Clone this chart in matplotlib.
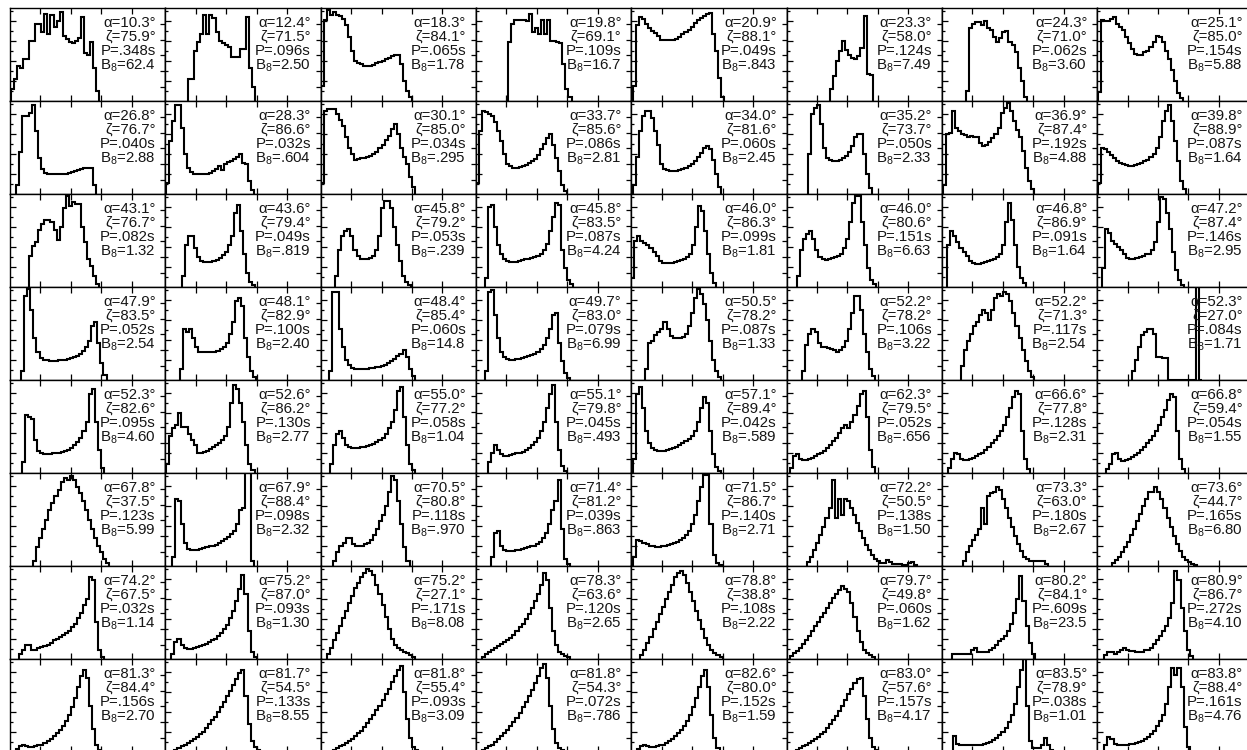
import matplotlib
matplotlib.use("Agg")
import matplotlib.pyplot as plt
import numpy as np

plt.rcParams['font.family'] = ['Liberation Sans', 'DejaVu Sans']
plt.rcParams['mathtext.fontset'] = 'custom'
plt.rcParams['mathtext.rm'] = 'Liberation Sans'
plt.rcParams['mathtext.default'] = 'regular'

# pulsar parameters, row by row (8 x 8 panels)
alpha = [10.3, 12.4, 18.3, 19.8, 20.9, 23.3, 24.3, 25.1,
         26.8, 28.3, 30.1, 33.7, 34.0, 35.2, 36.9, 39.8,
         43.1, 43.6, 45.8, 45.8, 46.0, 46.0, 46.8, 47.2,
         47.9, 48.1, 48.4, 49.7, 50.5, 52.2, 52.2, 52.3,
         52.3, 52.6, 55.0, 55.1, 57.1, 62.3, 66.6, 66.8,
         67.8, 67.9, 70.5, 71.4, 71.5, 72.2, 73.3, 73.6,
         74.2, 75.2, 75.2, 78.3, 78.8, 79.7, 80.2, 80.9,
         81.3, 81.7, 81.8, 81.8, 82.6, 83.0, 83.5, 83.8]
zeta = [75.9, 71.5, 84.1, 69.1, 88.1, 58.0, 71.0, 85.0,
        76.7, 86.6, 85.0, 85.6, 81.6, 73.7, 87.4, 88.9,
        76.7, 79.4, 79.2, 83.5, 86.3, 80.6, 86.9, 87.4,
        83.5, 82.9, 85.4, 83.0, 78.2, 78.2, 71.3, 27.0,
        82.6, 86.2, 77.2, 79.8, 89.4, 79.5, 77.8, 59.4,
        37.5, 88.4, 80.8, 81.2, 86.7, 50.5, 63.0, 44.7,
        67.5, 87.0, 27.1, 63.6, 38.8, 49.8, 84.1, 86.7,
        84.4, 54.5, 55.4, 54.3, 80.0, 57.6, 78.9, 88.4]
period = ['.348', '.096', '.065', '.109', '.049', '.124', '.062', '.154',
          '.040', '.032', '.034', '.086', '.060', '.050', '.192', '.087',
          '.082', '.049', '.053', '.087', '.099', '.151', '.091', '.146',
          '.052', '.100', '.060', '.079', '.087', '.106', '.117', '.084',
          '.095', '.130', '.058', '.045', '.042', '.052', '.128', '.054',
          '.123', '.098', '.118', '.039', '.140', '.138', '.180', '.165',
          '.032', '.093', '.171', '.120', '.108', '.060', '.609', '.272',
          '.156', '.133', '.093', '.072', '.152', '.157', '.038', '.161']
b8 = ['62.4', '2.50', '1.78', '16.7', '.843', '7.49', '3.60', '5.88',
      '2.88', '.604', '.295', '2.81', '2.45', '2.33', '4.88', '1.64',
      '1.32', '.819', '.239', '4.24', '1.81', '6.63', '1.64', '2.95',
      '2.54', '2.40', '14.8', '6.99', '1.33', '3.22', '2.54', '1.71',
      '4.60', '2.77', '1.04', '.493', '.589', '.656', '2.31', '1.55',
      '5.99', '2.32', '.970', '.863', '2.71', '1.50', '2.67', '6.80',
      '1.14', '1.30', '8.08', '2.65', '2.22', '1.62', '23.5', '4.10',
      '2.70', '8.55', '3.09', '.786', '1.59', '4.17', '1.01', '4.76']

# first bin of each profile (bin units)
starts = [0.3, 7.5, 0.0, 10.4, 0.5, 14.3, 7.9, 0.2,
          2.1, 0.2, 0.0, 0.0, 0.5, 7.1, 0.3, 0.2,
          6.3, 5.5, 4.8, 2.9, 0.0, 3.5, 1.8, 1.6,
          3.7, 4.8, 2.9, 2.9, 4.6, 5.2, 6.2, 11.4,
          3.8, 0.3, 3.0, 4.0, 0.5, 1.0, 2.0, 3.0,
          7.6, 2.2, 4.2, 4.8, 0.7, 6.8, 6.8, 4.8,
          3.0, 2.0, 2.0, 2.0, 3.0, 1.0, 3.5, 2.4,
          2.0, 3.0, 4.0, 2.0, 2.0, 3.0, 3.6, 2.4]

# normalised pulse-longitude histograms
profiles = [
    # row 1
    [0.13, 0.24, 0.38, 0.35, 0.45, 0.45, 0.65, 0.65, 0.83, 0.83, 0.74, 0.94, 0.72, 0.93, 0.80,
     0.86, 0.96, 0.70, 0.67, 0.63, 0.62, 0.64, 0.68, 0.90, 0.52, 0.50, 0.63, 0.36, 0.11],
    [0.24, 0.24, 0.54, 0.63, 0.72, 0.92, 0.72, 0.92, 0.89, 0.74, 0.65, 0.62, 0.60, 0.58, 0.47,
     0.47, 0.47, 0.56, 0.56, 0.90, 0.36, 0.15],
    [0.16, 0.87, 0.98, 0.93, 0.96, 0.93, 0.91, 0.88, 0.82, 0.69, 0.54, 0.43, 0.41, 0.40, 0.38,
     0.38, 0.38, 0.39, 0.41, 0.42, 0.43, 0.45, 0.46, 0.48, 0.49, 0.49, 0.40, 0.22, 0.11, 0.04],
    [0.63, 0.83, 0.87, 0.87, 0.87, 0.87, 0.86, 0.94, 0.74, 0.78, 0.72, 0.87, 0.72, 0.87, 0.65,
     0.64, 0.63, 0.62, 0.40, 0.13, 0.04],
    [0.16, 0.82, 0.90, 0.88, 0.83, 0.78, 0.75, 0.73, 0.70, 0.66, 0.66, 0.66, 0.66, 0.66, 0.67,
     0.69, 0.72, 0.74, 0.76, 0.80, 0.84, 0.87, 0.89, 0.91, 0.94, 0.95, 0.72, 0.54, 0.25, 0.04],
    [0.13, 0.27, 0.43, 0.54, 0.65, 0.55, 0.50, 0.46, 0.45, 0.48, 0.57, 0.91, 0.29, 0.28],
    [0.11, 0.78, 0.83, 0.85, 0.85, 0.82, 0.86, 0.78, 0.76, 0.69, 0.63, 0.68, 0.74, 0.75, 0.63,
     0.60, 0.53, 0.36, 0.22, 0.04],
    [0.10, 0.87, 0.86, 0.86, 0.88, 0.90, 0.83, 0.80, 0.76, 0.69, 0.62, 0.56, 0.51, 0.49, 0.49,
     0.53, 0.54, 0.58, 0.63, 0.70, 0.69, 0.63, 0.54, 0.45, 0.33, 0.22, 0.09, 0.03],
    # row 2
    [0.10, 0.45, 0.84, 0.84, 0.87, 0.96, 0.68, 0.39, 0.27, 0.23, 0.21, 0.21, 0.21, 0.21, 0.21,
     0.21, 0.22, 0.23, 0.24, 0.25, 0.26, 0.27, 0.28, 0.28, 0.28, 0.10],
    [0.12, 0.57, 0.78, 0.96, 0.96, 0.71, 0.43, 0.28, 0.24, 0.22, 0.21, 0.21, 0.21, 0.22, 0.23,
     0.25, 0.27, 0.30, 0.26, 0.32, 0.34, 0.36, 0.38, 0.40, 0.43, 0.33, 0.32, 0.14, 0.04],
    [0.12, 0.89, 0.91, 0.91, 0.91, 0.86, 0.80, 0.73, 0.61, 0.50, 0.43, 0.37, 0.38, 0.39, 0.39,
     0.40, 0.41, 0.43, 0.45, 0.49, 0.53, 0.58, 0.62, 0.70, 0.75, 0.64, 0.50, 0.40, 0.32, 0.18, 0.08],
    [0.12, 0.68, 0.89, 0.88, 0.86, 0.84, 0.77, 0.68, 0.57, 0.43, 0.32, 0.30, 0.28, 0.28, 0.29,
     0.30, 0.31, 0.33, 0.35, 0.38, 0.42, 0.48, 0.54, 0.60, 0.64, 0.53, 0.39, 0.25, 0.10, 0.03],
    [0.10, 0.40, 0.68, 0.84, 0.89, 0.89, 0.82, 0.68, 0.53, 0.32, 0.27, 0.26, 0.25, 0.25, 0.25,
     0.26, 0.27, 0.28, 0.30, 0.32, 0.36, 0.40, 0.44, 0.49, 0.52, 0.48, 0.37, 0.21, 0.08],
    [0.43, 0.86, 0.93, 0.96, 0.75, 0.50, 0.39, 0.37, 0.35, 0.35, 0.37, 0.39, 0.41, 0.45, 0.52,
     0.61, 0.64, 0.64, 0.43, 0.21, 0.06],
    [0.10, 0.64, 0.66, 0.89, 0.71, 0.68, 0.65, 0.63, 0.61, 0.62, 0.61, 0.61, 0.55, 0.52, 0.53,
     0.56, 0.60, 0.65, 0.71, 0.87, 0.93, 0.98, 0.89, 0.78, 0.69, 0.61, 0.46, 0.28, 0.14, 0.05],
    [0.12, 0.50, 0.48, 0.45, 0.42, 0.39, 0.36, 0.33, 0.32, 0.31, 0.30, 0.30, 0.31, 0.32, 0.33,
     0.35, 0.37, 0.40, 0.43, 0.50, 0.61, 0.78, 0.89, 0.96, 0.78, 0.57, 0.35, 0.14, 0.05],
    # row 3
    [0.33, 0.44, 0.48, 0.61, 0.68, 0.72, 0.72, 0.70, 0.61, 0.51, 0.64, 0.85, 0.98, 0.87, 0.91,
     0.89, 0.89, 0.64, 0.48, 0.30, 0.23, 0.12, 0.03],
    [0.12, 0.45, 0.55, 0.55, 0.42, 0.32, 0.28, 0.27, 0.27, 0.27, 0.28, 0.29, 0.31, 0.34, 0.38,
     0.45, 0.55, 0.80, 0.88, 0.60, 0.35, 0.15, 0.05, 0.02],
    [0.12, 0.40, 0.55, 0.60, 0.62, 0.55, 0.40, 0.33, 0.30, 0.30, 0.30, 0.31, 0.33, 0.40, 0.55,
     0.85, 0.92, 0.92, 0.85, 0.65, 0.45, 0.28, 0.12, 0.05, 0.02],
    [0.10, 0.86, 0.88, 0.65, 0.45, 0.35, 0.30, 0.28, 0.27, 0.27, 0.27, 0.28, 0.29, 0.30, 0.30,
     0.31, 0.32, 0.33, 0.36, 0.40, 0.46, 0.60, 0.75, 0.90, 0.88, 0.40, 0.20, 0.08, 0.03],
    [0.10, 0.50, 0.55, 0.50, 0.47, 0.45, 0.42, 0.38, 0.33, 0.28, 0.26, 0.26, 0.26, 0.26, 0.27,
     0.28, 0.29, 0.30, 0.32, 0.35, 0.45, 0.65, 0.87, 0.82, 0.60, 0.35, 0.15, 0.04],
    [0.12, 0.40, 0.52, 0.57, 0.60, 0.52, 0.40, 0.32, 0.30, 0.29, 0.30, 0.31, 0.32, 0.33, 0.36,
     0.42, 0.52, 0.70, 0.90, 0.98, 0.98, 0.70, 0.45, 0.20, 0.08, 0.03],
    [0.45, 0.60, 0.55, 0.48, 0.42, 0.38, 0.33, 0.28, 0.26, 0.25, 0.25, 0.26, 0.27, 0.28, 0.29,
     0.30, 0.32, 0.36, 0.45, 0.70, 0.90, 0.72, 0.45, 0.22, 0.10, 0.04],
    [0.20, 0.62, 0.58, 0.50, 0.46, 0.43, 0.40, 0.35, 0.31, 0.30, 0.30, 0.31, 0.32, 0.33, 0.35,
     0.36, 0.40, 0.48, 0.70, 0.97, 0.95, 0.80, 0.62, 0.38, 0.18, 0.07, 0.02],
    # row 4
    [0.10, 0.90, 0.98, 0.75, 0.45, 0.30, 0.24, 0.22, 0.21, 0.20, 0.20, 0.20, 0.21, 0.21, 0.22,
     0.23, 0.24, 0.25, 0.26, 0.28, 0.31, 0.35, 0.42, 0.58, 0.62, 0.40, 0.18, 0.05],
    [0.12, 0.55, 0.52, 0.55, 0.45, 0.35, 0.30, 0.30, 0.30, 0.30, 0.30, 0.30, 0.31, 0.33, 0.35,
     0.40, 0.50, 0.62, 0.85, 0.88, 0.80, 0.45, 0.25, 0.10, 0.03],
    [0.10, 0.95, 0.95, 0.55, 0.35, 0.22, 0.16, 0.13, 0.12, 0.12, 0.12, 0.12, 0.12, 0.13, 0.13,
     0.14, 0.14, 0.15, 0.16, 0.18, 0.20, 0.23, 0.26, 0.28, 0.32, 0.25, 0.12, 0.04],
    [0.10, 0.95, 0.97, 0.70, 0.45, 0.30, 0.25, 0.23, 0.22, 0.22, 0.23, 0.23, 0.24, 0.25, 0.26,
     0.27, 0.28, 0.30, 0.33, 0.38, 0.45, 0.55, 0.70, 0.72, 0.40, 0.20, 0.08, 0.02],
    [0.12, 0.40, 0.42, 0.48, 0.52, 0.55, 0.62, 0.55, 0.47, 0.45, 0.45, 0.45, 0.46, 0.50, 0.58,
     0.72, 0.88, 0.98, 0.92, 0.82, 0.65, 0.42, 0.22, 0.10, 0.03],
    [0.10, 0.38, 0.50, 0.55, 0.52, 0.40, 0.36, 0.35, 0.34, 0.33, 0.32, 0.30, 0.32, 0.35, 0.42,
     0.55, 0.72, 0.90, 0.90, 0.75, 0.50, 0.30, 0.12, 0.04],
    [0.15, 0.32, 0.42, 0.50, 0.58, 0.62, 0.70, 0.75, 0.72, 0.65, 0.75, 0.88, 0.92, 0.90, 0.95,
     0.93, 0.85, 0.72, 0.58, 0.45, 0.32, 0.20, 0.10, 0.03],
    [0.10, 0.22, 0.35, 0.48, 0.52, 0.55, 0.55, 0.50, 0.25, 0.25, 0.24, 0.24, 0.0, 0.0, 0.0,
     0.0, 0.0, 0.0, 0.0, 0.0, 0.0, 1.2, 0.0],
    # row 5
    [0.12, 0.62, 0.60, 0.58, 0.35, 0.24, 0.21, 0.20, 0.20, 0.20, 0.21, 0.21, 0.22, 0.23, 0.24,
     0.25, 0.27, 0.30, 0.33, 0.38, 0.45, 0.55, 0.85, 0.90, 0.55, 0.25, 0.05],
    [0.10, 0.40, 0.48, 0.52, 0.65, 0.50, 0.50, 0.42, 0.35, 0.30, 0.22, 0.22, 0.23, 0.24, 0.26,
     0.28, 0.30, 0.32, 0.35, 0.40, 0.50, 0.75, 0.95, 0.90, 0.75, 0.55, 0.30, 0.10, 0.03],
    [0.10, 0.30, 0.42, 0.45, 0.38, 0.30, 0.28, 0.27, 0.27, 0.27, 0.28, 0.28, 0.29, 0.30, 0.31,
     0.33, 0.35, 0.38, 0.42, 0.48, 0.55, 0.68, 0.88, 0.92, 0.60, 0.30, 0.10, 0.03],
    [0.12, 0.22, 0.30, 0.25, 0.20, 0.18, 0.18, 0.19, 0.20, 0.21, 0.22, 0.23, 0.25, 0.27, 0.30,
     0.33, 0.38, 0.45, 0.55, 0.70, 0.85, 0.95, 0.55, 0.25, 0.08, 0.02],
    [0.15, 0.85, 0.92, 0.70, 0.45, 0.32, 0.27, 0.25, 0.24, 0.24, 0.24, 0.25, 0.26, 0.27, 0.28,
     0.30, 0.32, 0.34, 0.37, 0.40, 0.45, 0.55, 0.70, 0.82, 0.75, 0.45, 0.20, 0.06, 0.02],
    [0.05, 0.18, 0.20, 0.15, 0.14, 0.14, 0.15, 0.16, 0.18, 0.20, 0.22, 0.24, 0.27, 0.30, 0.34,
     0.38, 0.43, 0.48, 0.52, 0.48, 0.55, 0.62, 0.72, 0.85, 0.88, 0.60, 0.25, 0.06],
    [0.05, 0.15, 0.22, 0.20, 0.15, 0.14, 0.14, 0.15, 0.16, 0.18, 0.20, 0.22, 0.25, 0.28, 0.32,
     0.36, 0.40, 0.45, 0.52, 0.60, 0.70, 0.82, 0.88, 0.85, 0.45, 0.15, 0.04],
    [0.04, 0.10, 0.20, 0.22, 0.15, 0.13, 0.14, 0.15, 0.17, 0.19, 0.22, 0.25, 0.28, 0.32, 0.36,
     0.40, 0.45, 0.52, 0.60, 0.68, 0.78, 0.85, 0.82, 0.45, 0.15, 0.04],
    # row 6
    [0.05, 0.20, 0.30, 0.40, 0.50, 0.60, 0.68, 0.75, 0.82, 0.90, 0.95, 0.93, 0.97, 0.92, 0.85,
     0.78, 0.70, 0.60, 0.50, 0.40, 0.30, 0.22, 0.15, 0.08, 0.03],
    [0.10, 0.72, 0.70, 0.45, 0.25, 0.18, 0.17, 0.17, 0.17, 0.18, 0.19, 0.20, 0.21, 0.22, 0.23,
     0.25, 0.27, 0.29, 0.31, 0.34, 0.38, 0.45, 0.60, 0.62, 1.05, 1.05, 0.05],
    [0.05, 0.15, 0.22, 0.25, 0.30, 0.30, 0.24, 0.22, 0.21, 0.22, 0.24, 0.25, 0.28, 0.33, 0.40,
     0.48, 0.55, 0.65, 0.80, 0.97, 0.92, 0.70, 0.45, 0.20, 0.05],
    [0.10, 0.35, 0.38, 0.22, 0.17, 0.16, 0.16, 0.16, 0.17, 0.17, 0.18, 0.19, 0.20, 0.21, 0.22,
     0.24, 0.26, 0.30, 0.35, 0.45, 0.60, 0.70, 0.92, 0.40, 0.08, 0.02],
    [0.10, 0.28, 0.27, 0.25, 0.24, 0.22, 0.21, 0.20, 0.20, 0.21, 0.22, 0.23, 0.24, 0.25, 0.26,
     0.28, 0.30, 0.33, 0.38, 0.45, 0.55, 0.70, 0.85, 0.98, 0.98, 0.45, 0.12, 0.03, 0.01],
    [0.04, 0.10, 0.17, 0.25, 0.33, 0.42, 0.52, 0.62, 0.92, 0.52, 0.72, 0.55, 0.72, 0.70, 0.62,
     0.55, 0.46, 0.38, 0.30, 0.23, 0.17, 0.12, 0.08, 0.05, 0.03, 0.03, 0.06, 0.04, 0.02, 0.02,
     0.02, 0.01, 0.01, 0.03, 0.04, 0.01],
    [0.05, 0.15, 0.22, 0.28, 0.33, 0.40, 0.62, 0.45, 0.75, 0.78, 0.80, 0.85, 0.82, 0.72, 0.62,
     0.52, 0.42, 0.32, 0.24, 0.16, 0.10, 0.07, 0.05, 0.05, 0.05, 0.05, 0.05, 0.02],
    [0.03, 0.06, 0.10, 0.15, 0.20, 0.26, 0.33, 0.40, 0.48, 0.56, 0.64, 0.72, 0.80, 0.80, 0.85,
     0.80, 0.72, 0.62, 0.52, 0.42, 0.32, 0.24, 0.16, 0.10, 0.06, 0.04, 0.02, 0.01],
    # row 7
    [0.05, 0.10, 0.15, 0.15, 0.10, 0.10, 0.12, 0.13, 0.14, 0.15, 0.17, 0.20, 0.22, 0.24, 0.26,
     0.28, 0.30, 0.34, 0.38, 0.44, 0.50, 0.58, 0.65, 0.88, 0.85, 0.40, 0.10, 0.02],
    [0.05, 0.18, 0.22, 0.15, 0.12, 0.11, 0.11, 0.12, 0.13, 0.14, 0.15, 0.16, 0.18, 0.20, 0.22,
     0.25, 0.28, 0.32, 0.37, 0.44, 0.52, 0.62, 0.75, 0.90, 0.70, 0.30, 0.08, 0.02],
    [0.05, 0.12, 0.20, 0.28, 0.36, 0.44, 0.52, 0.60, 0.68, 0.76, 0.82, 0.88, 0.92, 0.97, 0.95,
     0.90, 0.80, 0.70, 0.58, 0.45, 0.32, 0.22, 0.15, 0.12, 0.10, 0.08, 0.06, 0.04, 0.02],
    [0.02, 0.05, 0.08, 0.10, 0.12, 0.14, 0.16, 0.18, 0.20, 0.23, 0.26, 0.30, 0.34, 0.38, 0.43,
     0.48, 0.55, 0.62, 0.70, 0.80, 0.92, 0.85, 0.55, 0.30, 0.15, 0.08, 0.05, 0.03, 0.02],
    [0.04, 0.10, 0.17, 0.24, 0.32, 0.40, 0.48, 0.56, 0.64, 0.72, 0.80, 0.88, 0.93, 0.95, 0.90,
     0.82, 0.72, 0.62, 0.52, 0.42, 0.32, 0.23, 0.15, 0.10, 0.06, 0.04, 0.02],
    [0.03, 0.06, 0.09, 0.12, 0.16, 0.20, 0.25, 0.30, 0.35, 0.40, 0.45, 0.50, 0.55, 0.60, 0.66,
     0.70, 0.74, 0.78, 0.75, 0.72, 0.60, 0.45, 0.30, 0.18, 0.10, 0.06, 0.04, 0.02],
    [0.05, 0.05, 0.05, 0.05, 0.05, 0.05, 0.10, 0.12, 0.08, 0.08, 0.08, 0.08, 0.10, 0.12, 0.15,
     0.19, 0.22, 0.25, 0.30, 0.38, 0.49, 0.65, 0.89, 0.62, 0.35, 0.17, 0.05],
    [0.04, 0.08, 0.08, 0.05, 0.07, 0.10, 0.12, 0.10, 0.09, 0.09, 0.08, 0.08, 0.08, 0.10, 0.10,
     0.12, 0.16, 0.20, 0.25, 0.30, 0.36, 0.44, 0.60, 0.95, 0.85, 0.55, 0.30, 0.10, 0.03],
    # row 8
    [0.03, 0.06, 0.08, 0.06, 0.05, 0.05, 0.06, 0.07, 0.08, 0.10, 0.12, 0.14, 0.17, 0.20, 0.24,
     0.28, 0.33, 0.40, 0.48, 0.58, 0.70, 0.82, 0.88, 0.80, 0.50, 0.25, 0.08, 0.02],
    [0.02, 0.04, 0.06, 0.08, 0.10, 0.12, 0.14, 0.16, 0.19, 0.22, 0.26, 0.30, 0.34, 0.38, 0.43,
     0.48, 0.54, 0.60, 0.66, 0.72, 0.78, 0.85, 0.88, 0.60, 0.30, 0.12, 0.05, 0.02],
    [0.02, 0.04, 0.06, 0.08, 0.10, 0.12, 0.14, 0.17, 0.20, 0.23, 0.27, 0.31, 0.35, 0.40, 0.45,
     0.50, 0.56, 0.62, 0.68, 0.75, 0.82, 0.88, 0.92, 0.65, 0.35, 0.15, 0.05, 0.02],
    [0.02, 0.04, 0.06, 0.08, 0.11, 0.14, 0.17, 0.20, 0.24, 0.28, 0.32, 0.37, 0.42, 0.48, 0.54,
     0.60, 0.67, 0.74, 0.82, 0.90, 0.95, 0.80, 0.50, 0.25, 0.10, 0.04, 0.02],
    [0.03, 0.06, 0.08, 0.06, 0.05, 0.05, 0.06, 0.07, 0.08, 0.10, 0.12, 0.14, 0.17, 0.20, 0.24,
     0.28, 0.33, 0.40, 0.48, 0.58, 0.70, 0.82, 0.88, 0.70, 0.40, 0.15, 0.04],
    [0.02, 0.04, 0.06, 0.08, 0.10, 0.12, 0.14, 0.16, 0.19, 0.22, 0.26, 0.30, 0.34, 0.39, 0.44,
     0.50, 0.56, 0.62, 0.68, 0.74, 0.78, 0.80, 0.60, 0.35, 0.15, 0.05, 0.02],
    [0.17, 0.09, 0.075, 0.07, 0.07, 0.07, 0.07, 0.07, 0.075, 0.08, 0.09, 0.10, 0.11, 0.13, 0.15,
     0.18, 0.21, 0.26, 0.32, 0.40, 0.52, 0.70, 0.88, 1.00, 0.50, 0.12, 0.04, 0.04, 0.04, 0.07,
     0.15, 0.07, 0.02],
    [0.08, 0.16, 0.14, 0.09, 0.08, 0.075, 0.075, 0.08, 0.085, 0.09, 0.10, 0.11, 0.12, 0.14, 0.16,
     0.19, 0.23, 0.28, 0.33, 0.40, 0.52, 0.70, 0.90, 0.83, 0.90, 0.70, 0.27, 0.05],
]

W, H = 1247.0, 750.0
x0, y0, pw, ph = 10.0, 8.0, 155.3, 93.0

fig = plt.figure(figsize=(W / 100, H / 100), dpi=100)

for k in range(64):
    r, c = divmod(k, 8)
    ax = fig.add_axes([(x0 + c * pw) / W, 1 - (y0 + (r + 1) * ph) / H, pw / W, ph / H])
    h = np.array(profiles[k])
    edges = starts[k] + np.arange(len(h) + 1)
    ax.stairs(h, edges, color='black', lw=1.5, baseline=0)
    ax.set_xlim(0, 51)
    ax.set_ylim(0, 1)

    ax.set_xticks([10, 20, 30, 40])
    ax.set_yticks([0.216, 0.432, 0.648, 0.864])
    ax.set_yticks([0.108, 0.324, 0.540, 0.756, 0.972], minor=True)
    ax.tick_params(which='both', direction='in', top=True, right=False,
                   labelleft=False, labelbottom=False, width=0.9, color='black')
    ax.tick_params(which='major', length=4.0)
    ax.tick_params(which='minor', length=2.5, bottom=False, top=False)

    sec = ax.secondary_yaxis('right')
    sec.set_yticks([0.15, 0.32, 0.49, 0.66, 0.83])
    sec.tick_params(direction='in', length=3.5, width=0.9, labelright=False)
    sec.spines['right'].set_linewidth(1.0)
    for s in ax.spines.values():
        s.set_linewidth(1.0)

    lines = ['\u03b1=%.1f\u00b0' % alpha[k],
             '\u03b6=%.1f\u00b0' % zeta[k],
             'P=%ss' % period[k],
             'B$_8$=%s' % b8[k]]
    for txt, yy in zip(lines, [0.80, 0.65, 0.495, 0.335]):
        ax.text(0.937, yy, txt, transform=ax.transAxes, ha='right', va='baseline',
                fontsize=10.8, color='#151515')

fig.savefig('out.png', dpi=100)
